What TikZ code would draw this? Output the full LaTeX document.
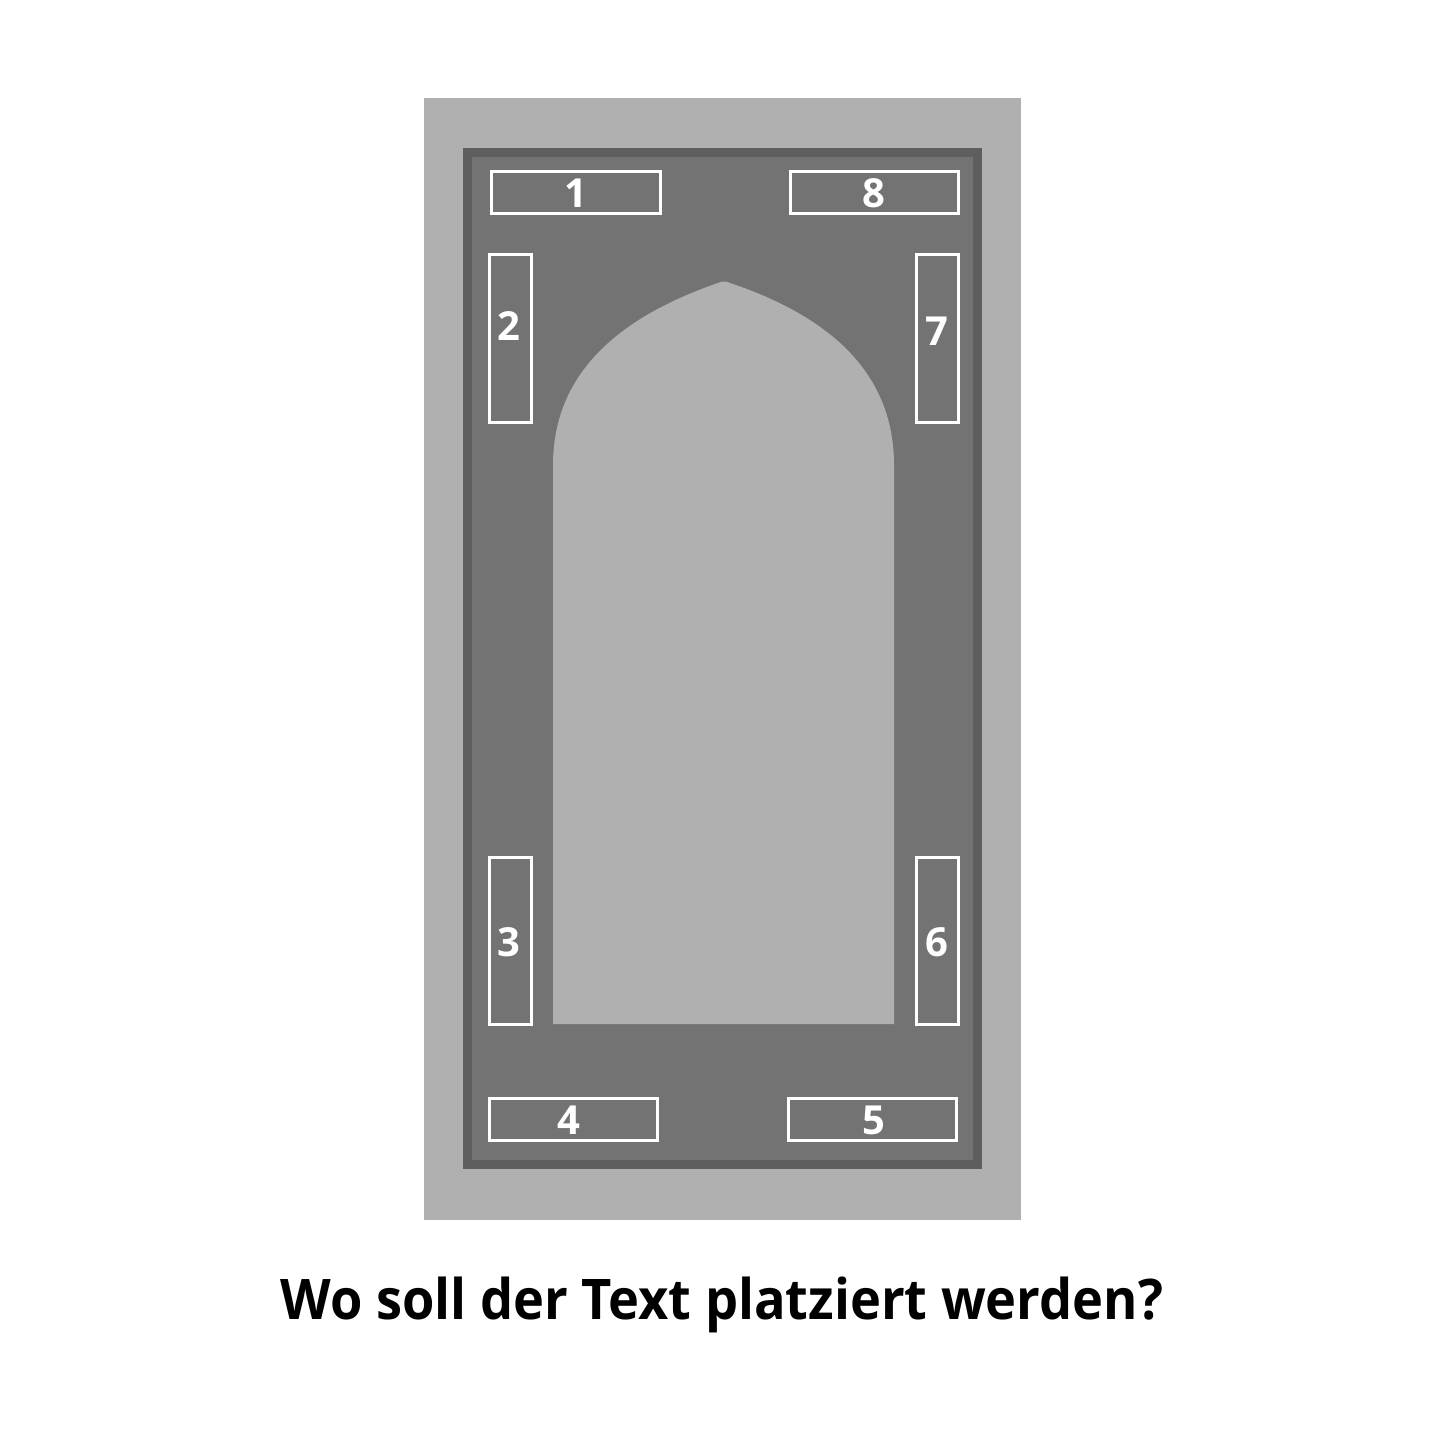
\documentclass[tikz,border=0pt]{standalone}
\usepackage{fontspec}
\setmainfont{Open Sans}
\definecolor{rugout}{HTML}{B0B0B0}
\definecolor{rugborder}{HTML}{5E5E5E}
\definecolor{ruginner}{HTML}{737373}
\definecolor{rugarch}{HTML}{B0B0B0}
\begin{document}
\begin{tikzpicture}[x=1pt,y=-1pt,
  slot/.style={draw=white,line width=3pt,fill=none},
  num/.style={text=white,font=\fontsize{40}{40}\selectfont\bfseries,inner sep=0pt,anchor=center}]
\useasboundingbox[fill=white] (0,0) rectangle (1445,1445);
\fill[rugout] (424,98) rectangle (1021,1220);
\fill[rugborder] (463,148) rectangle (982,1169);
\fill[ruginner] (472,157) rectangle (973,1160);
% arch
\fill[rugarch] (553,1024) -- (553,465)
  .. controls (553,360) and (640,310) .. (718,283)
  .. controls (722,281) and (726,281) .. (730,283)
  .. controls (810,310) and (894,360) .. (894,465)
  -- (894,1024) -- cycle;
% slots
\draw[slot] (491,171) rectangle (660,213);
\draw[slot] (790,171) rectangle (958,213);
\draw[slot] (489,254) rectangle (531,422);
\draw[slot] (916,254) rectangle (958,422);
\draw[slot] (489,857) rectangle (531,1024);
\draw[slot] (916,857) rectangle (958,1024);
\draw[slot] (489,1098) rectangle (657,1140);
\draw[slot] (788,1098) rectangle (956,1140);
\node[num] (n1) at (576,193) {1};
\node[num] (n8) at (874,193) {8};
\node[num] (n2) at (509,326) {2};
\node[num] (n7) at (937,331) {7};
\node[num] (n3) at (509,942) {3};
\node[num] (n6) at (937,942) {6};
\node[num] (n4) at (569,1120) {4};
\node[num] (n5) at (874,1120) {5};
\node[font=\fontsize{56}{56}\selectfont\bfseries,inner sep=0pt] (title) at (722,1305) {\scalebox{0.935}[1]{Wo soll der Text platziert werden?}};
\end{tikzpicture}
\end{document}
